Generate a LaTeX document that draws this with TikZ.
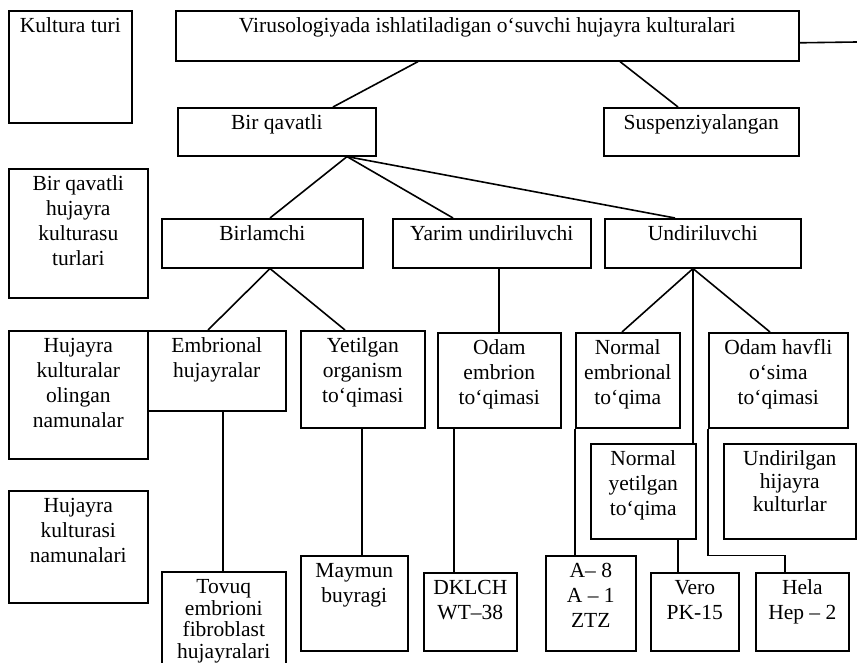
\documentclass[tikz,border=0pt]{standalone}
\usepackage{fontspec}
\setmainfont{Liberation Serif}
\usepackage{tikz}
\newcommand{\cellbox}[3]{\parbox[t][#2pt][t]{#1pt}{\centering\rule{0pt}{22pt}#3}}

\begin{document}
\begin{tikzpicture}[x=1pt,y=-1pt,line width=1.6pt,
    font=\fontsize{21.5}{25}\selectfont,
    cell/.style={draw,inner sep=0pt,anchor=north west}]
                    \useasboundingbox (0,0) rectangle (857,663);
                    % left column
                    \node[cell] (kind) at (8,10) {\cellbox{123}{112}{Kultura turi}};
                    \node[cell] (types) at (8,168) {\cellbox{139}{129}{Bir qavatli\\hujayra\\kulturasu\\turlari}};
                    \node[cell] (source) at (8,330) {\cellbox{139}{128}{Hujayra\\kulturalar\\olingan\\namunalar}};
                    \node[cell] (samples) at (8,490) {\cellbox{139}{112}{Hujayra\\kulturasi\\namunalari}};
                    % tree
                    \node[cell] (main) at (175,10) {\cellbox{623}{50}{Virusologiyada ishlatiladigan o‘suvchi hujayra kulturalari}};
                    \node[cell] (mono) at (177,107) {\cellbox{198}{48}{Bir qavatli}};
                    \node[cell] (susp) at (603,107) {\cellbox{195}{48}{Suspenziyalangan}};
                    \node[cell] (prim) at (161,218) {\cellbox{201}{49}{Birlamchi}};
                    \node[cell] (semi) at (392,218) {\cellbox{198}{49}{Yarim undiriluvchi}};
                    \node[cell] (cont) at (604,218) {\cellbox{196}{49}{Undiriluvchi}};
                    \node[cell] (emb) at (147,330) {\cellbox{138}{80}{Embrional\\hujayralar}};
                    \node[cell] (adult) at (300,330) {\cellbox{124}{97}{Yetilgan\\organism\\to‘qimasi}};
                    \node[cell] (hemb) at (437,332) {\cellbox{123}{95}{Odam\\embrion\\to‘qimasi}};
                    \node[cell] (nemb) at (575,332) {\cellbox{104}{95}{Normal\\embrional\\to‘qima}};
                    \node[cell] (tumor) at (708,332) {\cellbox{139}{95}{Odam havfli\\o‘sima\\to‘qimasi}};
                    \node[cell] (nadult) at (590,443) {\cellbox{105}{95}{Normal\\yetilgan\\to‘qima}};
                    \node[cell] (immort) at (723,443) {\cellbox{132}{95}{\fontsize{21.5}{23}\selectfont Undirilgan\\hijayra\\kulturlar}};
                    \node[cell] (chick) at (161,571) {\cellbox{124}{100}{\fontsize{21.5}{21.5}\selectfont Tovuq\\embrioni\\fibroblast\\hujayralari}};
                    \node[cell] (monkey) at (300,555) {\cellbox{107}{95}{Maymun\\buyragi}};
                    \node[cell] (dklch) at (423,572) {\cellbox{93}{78}{DKLCH\\WT–38}};
                    \node[cell] (aline) at (545,555) {\cellbox{90}{95}{A– 8\\A – 1\\ZTZ}};
                    \node[cell] (vero) at (650,572) {\cellbox{88}{78}{Vero\\PK-15}};
                    \node[cell] (hela) at (755,572) {\cellbox{93}{78}{Hela\\Hep – 2}};
                    \coordinate (edge) at (857,42);
                    % connectors
                    \draw ([yshift=-7pt]main.east) -- (edge);
                    \draw ([xshift=243pt]main.south west) -- ([xshift=156pt]mono.north west);
                    \draw ([xshift=445pt]main.south west) -- ([xshift=75pt]susp.north west);
                    \coordinate (m) at ([xshift=170pt]mono.south west);
                    \draw ([xshift=109pt]prim.north west) -- (m) -- ([xshift=61pt]semi.north west);
                    \draw (m) -- ([xshift=71pt]cont.north west);
                    \coordinate (p) at ([xshift=109pt]prim.south west);
                    \draw ([xshift=61pt]emb.north west) -- (p) -- ([xshift=45pt]adult.north west);
                    \coordinate (u) at ([xshift=89pt]cont.south west);
                    \draw ([xshift=47pt]nemb.north west) -- (u) -- ([xshift=62pt]tumor.north west);
                    \draw (u) -- (u |- nadult.north);
                    \draw ([xshift=107pt]semi.south west) -- ([xshift=107pt]semi.south west |- hemb.north);
                    \draw ([xshift=76pt]emb.south west) -- ([xshift=76pt]emb.south west |- chick.north);
                    \draw ([xshift=62pt]adult.south west) -- ([xshift=62pt]adult.south west |- monkey.north);
                    \draw ([xshift=17pt]hemb.south west) -- ([xshift=17pt]hemb.south west |- dklch.north);
                    \draw (nemb.south west) -- (nemb.south west |- aline.north);
                    \draw ([xshift=88pt]nadult.south west) -- ([xshift=88pt]nadult.south west |- vero.north);
                    \draw (tumor.south west) -- ++(0,127) -| ([xshift=30pt]hela.north west);
                    \end{tikzpicture}
\end{document}
